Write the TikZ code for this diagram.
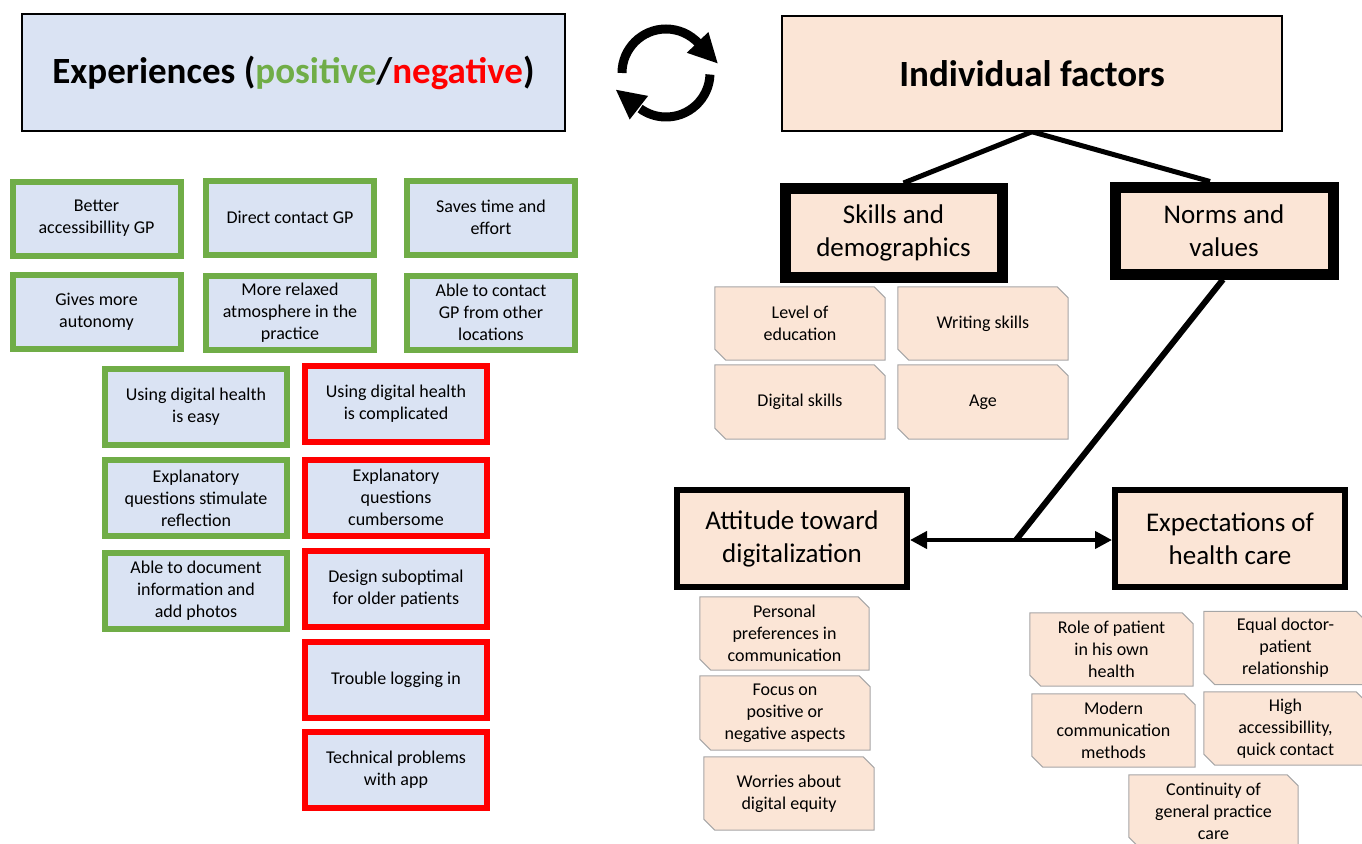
\documentclass[tikz,border=0pt]{standalone}
\usepackage{fontspec}
\setmainfont{Carlito}
\usetikzlibrary{arrows.meta,backgrounds}
\definecolor{bluefill}{HTML}{DAE3F3}
\definecolor{peach}{HTML}{FBE5D6}
\definecolor{pgreen}{HTML}{70AD47}
\definecolor{pred}{HTML}{FF0000}
\definecolor{notegray}{HTML}{A6A6A6}
\tikzset{
  small/.style={font=\fontsize{18}{22}\selectfont},
  expbox/.style={rectangle, inner sep=0pt, align=center, small, fill=bluefill, line width=6pt},
  posbox/.style={expbox, draw=pgreen},
  negbox/.style={expbox, draw=pred},
  topbox/.style={rectangle, inner sep=0pt, align=center, draw=black, line width=1.5pt, font=\fontsize{37}{44}\selectfont\bfseries},
  keybox/.style={rectangle, inner sep=0pt, align=center, draw=black, fill=peach, font=\fontsize{27}{33}\selectfont},
  notebox/.style={rectangle, inner sep=0pt, align=center, small, minimum width=170pt, minimum height=73pt},
  outline/.style={draw=notegray, fill=peach, line width=1pt},
  link/.style={line width=5pt, black},
}
\begin{document}
\begin{tikzpicture}[x=1pt,y=-1pt]
\useasboundingbox (0,0) rectangle (1362,843);
\clip (0,0) rectangle (1362,843);

% title boxes
\node[topbox, fill=bluefill, minimum width=543pt, minimum height=117pt] (exp) at (293.5,72.5)
  {Experiences (\textcolor{pgreen}{positive}/\textcolor{pred}{negative})};
\node[topbox, fill=peach, minimum width=500pt, minimum height=115pt] (ind) at (1032,73.5)
  {Individual factors};

% cycle icon
\draw[line width=9pt] (666,73) ++(180:44) arc[start angle=180, end angle=318, radius=44];
\fill (717.6,63.3) -- (708.4,32) -- (686.8,52.8) -- cycle;
\draw[line width=9pt] (666,73) ++(2:44) arc[start angle=2, end angle=126, radius=44];
\fill (616,89.8) -- (648.1,95.9) -- (629.7,119.5) -- cycle;

% experiences boxes
\begin{scope}[every node/.append style={minimum width=168pt, minimum height=74pt}]
\node[posbox] (g1) at (96.5,218.5) {Better\\accessibillity GP};
\node[posbox] (g2) at (290,217.5) {Direct contact GP};
\node[posbox] (g3) at (491,217.5) {Saves time and\\effort};
\node[posbox] (g4) at (96.5,312) {Gives more\\autonomy};
\node[posbox] (g5) at (290,312.5) {More relaxed\\atmosphere in the\\practice};
\node[posbox] (g6) at (491,312.5) {Able to contact\\GP from other\\locations};
\end{scope}
\begin{scope}[every node/.append style={minimum width=182pt, minimum height=76pt}]
\node[posbox] (g7) at (196,407) {Using digital health\\is easy};
\node[posbox] (g8) at (196,498) {Explanatory\\questions stimulate\\reflection};
\node[posbox] (g9) at (196,591) {Able to document\\information and\\add photos};
\node[negbox] (r1) at (396,404) {Using digital health\\is complicated};
\node[negbox] (r2) at (396,497.5) {Explanatory\\questions\\cumbersome};
\node[negbox] (r3) at (396,589) {Design suboptimal\\for older patients};
\node[negbox] (r4) at (396,680) {Trouble logging in};
\node[negbox] (r5) at (396,770) {Technical problems\\with app};
\end{scope}

% factor boxes
\node[keybox, line width=11pt, minimum width=217pt, minimum height=89pt] (sk) at (893.5,233) {Skills and\\demographics};
\node[keybox, line width=11pt, minimum width=218pt, minimum height=87pt] (nv) at (1224,230.5) {Norms and\\values};
\node[keybox, line width=6pt, minimum width=230pt, minimum height=97pt] (at) at (792,538.5) {Attitude toward\\digitalization};
\node[keybox, line width=6pt, minimum width=230pt, minimum height=97pt] (ex) at (1230,538.5) {Expectations of\\health care};
\coordinate (j) at (1016,540);

% notes
\node[notebox] (n1) at (800,323.5) {Level of\\education};
\node[notebox] (n2) at (983,323.5) {Writing skills};
\node[notebox, minimum height=74pt] (n3) at (800,402) {Digital skills};
\node[notebox, minimum height=74pt] (n4) at (983,402) {Age};
\node[notebox, minimum width=169pt] (n5) at (784.5,633.5) {Personal\\preferences in\\communication};
\node[notebox, minimum height=74pt] (n6) at (785,713) {Focus on\\positive or\\negative aspects};
\node[notebox] (n7) at (789,793.5) {Worries about\\digital equity};
\node[notebox, minimum width=163pt] (n8) at (1111.5,649.5) {Role of patient\\in his own\\health};
\node[notebox, minimum width=163pt] (n9) at (1285.5,648) {Equal doctor-\\patient\\relationship};
\node[notebox, minimum width=163pt] (n10) at (1113.5,730.5) {Modern\\communication\\methods};
\node[notebox, minimum width=163pt] (n11) at (1285.5,728.5) {High\\accessibillity,\\quick contact};
\node[notebox, minimum width=169pt] (n12) at (1213.5,811.5) {Continuity of\\general practice\\care};

\begin{scope}[on background layer]
\foreach \n in {n1,n2,n3,n4,n5,n6,n7,n8,n9,n10,n11,n12}{
  \draw[outline] (\n.north west) -- ([xshift=-11pt]\n.north east) -- ([yshift=-11pt]\n.north east)
    -- (\n.south east) -- ([xshift=11pt]\n.south west) -- ([yshift=11pt]\n.south west) -- cycle;
}
\draw[link] (ind.south) -- ([xshift=10pt]sk.north);
\draw[link] (ind.south) -- ([xshift=-14pt]nv.north);
\draw[link, line width=6pt] ([xshift=-1pt]nv.south) -- (j);
\end{scope}
\draw[line width=4pt, {Triangle[length=17pt,width=17pt]}-{Triangle[length=17pt,width=17pt]}] (at.east |- j) -- (ex.west |- j);
\end{tikzpicture}
\end{document}
